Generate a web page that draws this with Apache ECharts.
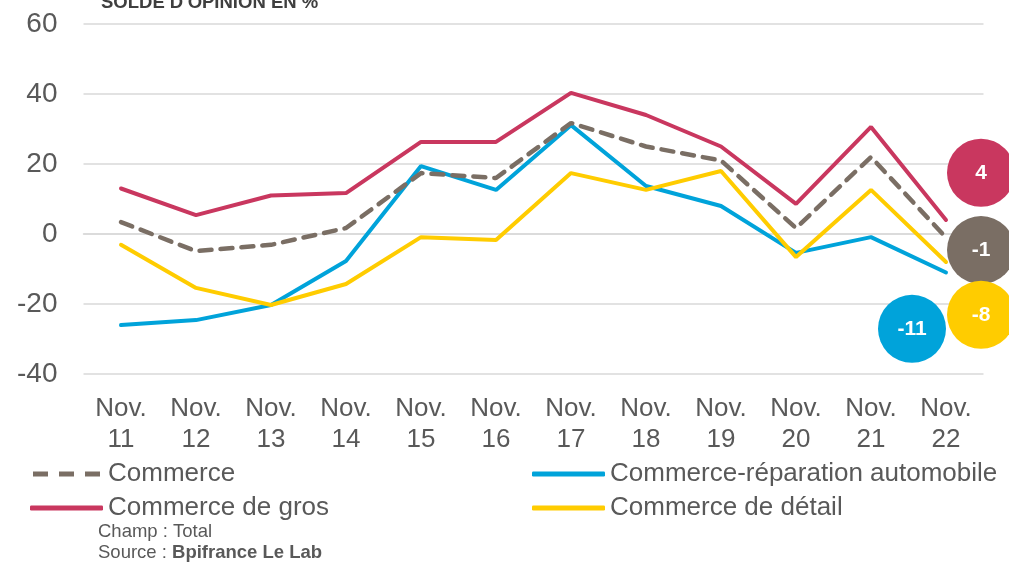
<!DOCTYPE html>
<html>
<head>
<meta charset="utf-8">
<script src="https://cdn.jsdelivr.net/npm/echarts@6/dist/echarts.min.js"></script>
<style>
  html, body { margin: 0; padding: 0; background: #fff; }
  #chart { width: 1009px; height: 563px; }
</style>
</head>
<body>
<div id="chart"></div>
<script>
// categories
const years = ['Nov.\n11', 'Nov.\n12', 'Nov.\n13', 'Nov.\n14', 'Nov.\n15', 'Nov.\n16',
  'Nov.\n17', 'Nov.\n18', 'Nov.\n19', 'Nov.\n20', 'Nov.\n21', 'Nov.\n22']
// series values (solde d'opinion, %)
const commerce = [3.4, -4.9, -3.1, 1.7, 17.4, 16, 31.7, 25, 21, 1.7, 22, -1]
const gros = [13, 5.4, 11, 11.7, 26.3, 26.3, 40.3, 34, 25, 8.6, 30.6, 4]
const auto = [-26, -24.6, -20.3, -7.7, 19.4, 12.6, 31.1, 13.7, 8, -5.4, -0.9, -11]
const detail = [-3.1, -15.4, -20.3, -14.3, -0.9, -1.7, 17.4, 12.6, 18, -6.6, 12.6, -8]
const yTicks = [-40, -20, 0, 20, 40, 60]

const txt = '#595959'
const font = 'Liberation Sans, Arial, sans-serif'
const dashIcon = 'path://M0,0h15v5h-15z M26,0h15v5h-15z M52,0h15v5h-15z'

// bulle de la derniere valeur
function bubble(color, val, y, dx){
  return {
    symbol: 'circle',
    symbolSize: 68,
    symbolOffset: [dx, 0],
    silent: true,
    itemStyle: { color: color },
    label: {
      show: true, color: '#fff', fontSize: 21, fontWeight: 'bold', fontFamily: font,
      formatter: String(val)
    },
    data: [{ coord: [years.length - 1, y] }]
  }
}

const legendText = { fontSize: 26, color: txt, fontFamily: font }

const chart = echarts.init(document.getElementById('chart'))
const option = {
  animation: false,
  textStyle: { fontFamily: font },
  title: {
    text: "SOLDE D'OPINION EN %",
    left: 96, top: -12,
    textStyle: { fontSize: 18.5, fontWeight: 'bold', color: '#3f3f3f', fontFamily: font }
  },
  grid: { left: 83.5, right: 25.5, top: 24, bottom: 189, containLabel: false },
  legend: [
    {
      data: [{ name: 'Commerce', icon: dashIcon }, { name: 'Commerce de gros', icon: 'roundRect' }],
      orient: 'vertical', left: 25, top: 456,
      itemWidth: 73, itemHeight: 5, itemGap: 8,
      lineStyle: { width: 0 },
      textStyle: legendText
    },
    {
      data: [{ name: 'Commerce-réparation automobile', icon: 'roundRect' }, { name: 'Commerce de détail', icon: 'roundRect' }],
      orient: 'vertical', left: 527, top: 456,
      itemWidth: 73, itemHeight: 5, itemGap: 8,
      lineStyle: { width: 0 },
      textStyle: legendText
    }
  ],
  graphic: [
    {
      type: 'text', left: 98, top: 522,
      style: { text: 'Champ : Total', fontSize: 18.5, fill: txt, fontFamily: font }
    },
    {
      type: 'text', left: 98, top: 543,
      style: {
        text: 'Source : {b|Bpifrance Le Lab}', fontSize: 18.5, fill: txt, fontFamily: font,
        rich: { b: { fontWeight: 'bold', fontSize: 18.5, fill: txt, fontFamily: font } }
      }
    }
  ],
  xAxis: {
    type: 'category',
    data: years,
    boundaryGap: true,
    axisLine: { show: true, lineStyle: { color: '#d9d9d9', width: 1.5 } },
    axisTick: { show: false },
    axisLabel: { color: txt, fontSize: 26, lineHeight: 31, margin: 19, interval: 0, fontFamily: font }
  },
  yAxis: {
    type: 'value',
    min: yTicks[0], max: yTicks[yTicks.length - 1], interval: 20,
    axisLine: { show: false },
    axisTick: { show: false },
    axisLabel: { color: txt, fontSize: 28, margin: 26, fontFamily: font },
    splitLine: { lineStyle: { color: '#d9d9d9', width: 1.5 } }
  },
  series: [
    {
      name: 'Commerce', type: 'line', data: commerce, symbol: 'none', z: 4,
      lineStyle: { color: '#7a6e64', width: 4.5, type: [12, 9], cap: 'round' },
      itemStyle: { color: '#7a6e64' },
      markPoint: bubble('#7a6e64', commerce[11], -4.6, 35)
    },
    {
      name: 'Commerce-réparation automobile', type: 'line', data: auto, symbol: 'none', z: 2,
      lineStyle: { color: '#00a3da', width: 4, cap: 'round' },
      itemStyle: { color: '#00a3da' },
      markPoint: bubble('#00a3da', auto[11], -27.1, -34)
    },
    {
      name: 'Commerce de gros', type: 'line', data: gros, symbol: 'none', z: 3,
      lineStyle: { color: '#c9375f', width: 4, cap: 'round' },
      itemStyle: { color: '#c9375f' },
      markPoint: bubble('#c9375f', gros[11], 17.5, 35)
    },
    {
      name: 'Commerce de détail', type: 'line', data: detail, symbol: 'none', z: 2,
      lineStyle: { color: '#ffcc00', width: 4, cap: 'round' },
      itemStyle: { color: '#ffcc00' },
      markPoint: bubble('#ffcc00', detail[11], -23.1, 35)
    }
  ]
}
chart.setOption(option)
</script>
</body>
</html>
